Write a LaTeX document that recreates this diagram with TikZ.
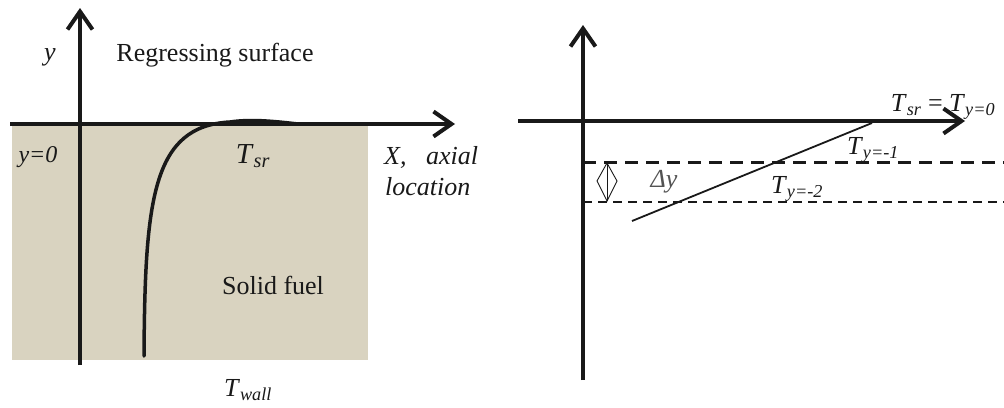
\documentclass[tikz,border=0pt]{standalone}
\usepackage{fontspec}
\setmainfont{Liberation Serif}
\usetikzlibrary{arrows.meta}
\definecolor{fuel}{RGB}{217,211,192}
\definecolor{ink}{RGB}{25,25,25}
\newcommand{\Tsub}[1]{\textit{T}\textsubscript{\textit{#1}}}
\begin{document}
\begin{tikzpicture}[x=1pt,y=-1pt,
  axis/.style={line width=4pt,draw=ink,-{Straight Barb[length=18pt,width=25pt,line width=4pt]}},
  lbl/.style={inner sep=0pt,text=ink,font=\fontsize{26}{30}\selectfont},
  ilbl/.style={lbl,font=\fontsize{26}{30}\selectfont\itshape},
  dash1/.style={line width=3pt,draw=ink,dash pattern=on 13pt off 8pt},
  dash2/.style={line width=2.2pt,draw=ink,dash pattern=on 9pt off 6pt}]
\useasboundingbox (0,0) rectangle (1004,407);
% ---------- left panel ----------
\fill[fuel] (12,124) rectangle (368,360);
\coordinate (xl0) at (10,124);
\coordinate (xl1) at (455,124);
\coordinate (yl0) at (80,365);
\coordinate (yl1) at (80,8);
\draw[axis] (xl0) -- (xl1);
\draw[axis] (yl0) -- (yl1);
\coordinate (c0) at (144,356);
\coordinate (c1) at (230,122);
\coordinate (c2) at (298,124);
\draw[line width=3.5pt,draw=ink,line cap=round] (c0) .. controls (145,200) and (152,126) .. (c1)
   .. controls (250,119) and (272,121) .. (c2);
\node[ilbl] (ylab) at (50,57) {y};
\node[lbl] (reg) at (215,55) {Regressing surface};
\node[ilbl,font=\fontsize{24}{28}\selectfont\itshape] (y0) at (38,157) {y=0};
\node[lbl,font=\fontsize{29}{32}\selectfont] (tsr) at (253,156) {\Tsub{sr}};
\node[ilbl,anchor=west] (xax) at (384,157) {X,\ \ \ axial};
\node[ilbl,anchor=west] (loc) at (385,187) {location};
\node[lbl] (solid) at (273,285) {Solid fuel};
\node[lbl] (twall) at (248,390) {\Tsub{wall}};
% ---------- right panel ----------
\coordinate (xr0) at (518,121);
\coordinate (xr1) at (965,121);
\coordinate (yr0) at (583,380);
\coordinate (yr1) at (583,25);
\draw[axis] (xr0) -- (xr1);
\draw[axis] (yr0) -- (yr1);
\coordinate (d1a) at (583,162);
\coordinate (d1b) at (1004,162);
\coordinate (d2a) at (583,202);
\coordinate (d2b) at (1004,202);
\draw[dash1] (d1a) -- (d1b);
\draw[dash2] (d2a) -- (d2b);
\coordinate (s0) at (632,221);
\coordinate (s1) at (872,123);
\draw[line width=1.8pt,draw=ink] (s0) -- (s1);
\coordinate (dt) at (607,163);
\coordinate (db) at (607,201);
\draw[line width=0.9pt,draw=ink] (dt) -- (597,181) -- (db) -- (617,181) -- cycle;
\draw[line width=0.9pt,draw=ink] (dt) -- (db);
\node[ilbl,text=ink!75] (dy) at (664,182) {Δy};
\node[lbl] (ty1) at (873,150) {\Tsub{y=-1}};
\node[lbl] (ty2) at (797,189) {\Tsub{y=-2}};
\node[lbl] (tsr2) at (943,107) {\Tsub{sr} = \Tsub{y=0}};
\end{tikzpicture}
\end{document}
